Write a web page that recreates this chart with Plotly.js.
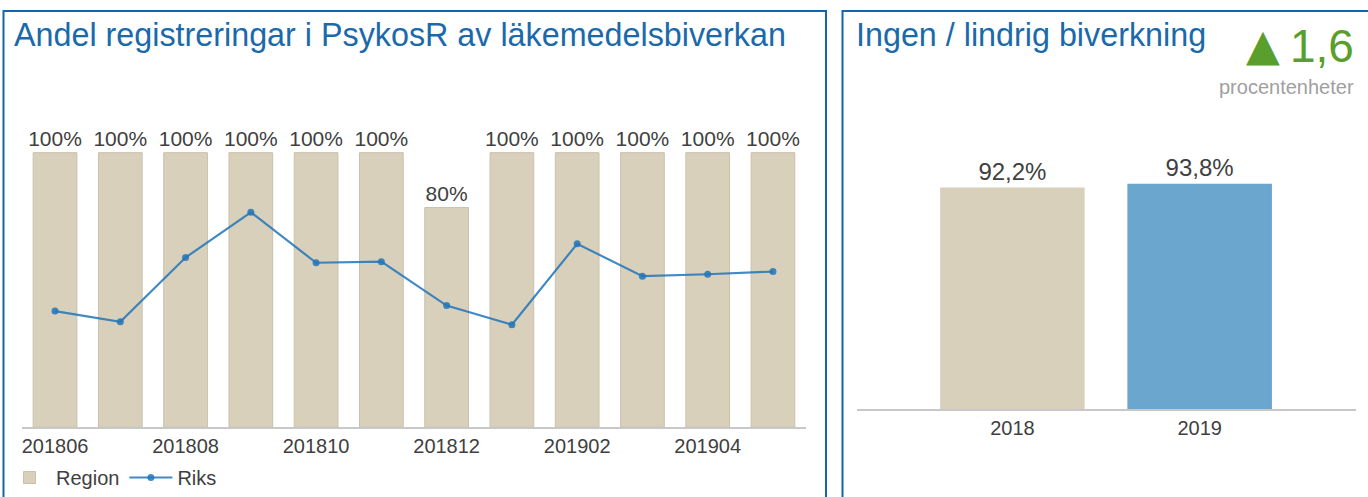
<!DOCTYPE html>
<html>
<head>
<meta charset="utf-8">
<script src="https://cdn.plot.ly/plotly-3.0.1.min.js"></script>
<style>
html,body{margin:0;padding:0;background:#fff;}
#chart{width:1368px;height:497px;}
</style>
</head>
<body>
<div id="chart"></div>
<script>
// ---- data ----
const months = ['201806','201807','201808','201809','201810','201811','201812','201901','201902','201903','201904','201905'];
const regionValues = [100,100,100,100,100,100,80,100,100,100,100,100];
const riksValues = [42.3,38.4,61.8,78.3,59.9,60.3,44.3,37.3,66.8,55.0,55.7,56.7];
const tickMonths = ['201806','201808','201810','201812','201902','201904'];

const years = ['2018','2019'];
const yearValues = [92.2,93.8];
const changeValue = '1,6';

const leftTitle = 'Andel registreringar i PsykosR av läkemedelsbiverkan';
const rightTitle = 'Ingen / lindrig biverkning';
const changeUnit = 'procentenheter';

// ---- style ----
const FONT = 'Liberation Sans, Arial, Helvetica, sans-serif';
const BEIGE = '#d8d0bb';
const BLUE_BAR = '#6aa6cd';
const LINE_BLUE = 'rgba(33,118,184,0.85)';
const TITLE_BLUE = '#1a6aab';
const BORDER_BLUE = '#1565a8';
const TXT = '#404040';
const W = 1368, H = 497;
const px = v => v / W;
const py = v => 1 - v / H;

const fmtPct = v => v.toFixed(1).replace('.', ',') + '%';

const traces = [
  {
    type: 'bar', name: 'Region', x: months, y: regionValues,
    xaxis: 'x', yaxis: 'y',
    marker: {color: BEIGE, line: {width: 1, color: '#c9c1ad'}},
    text: regionValues.map(v => v + '%'),
    textposition: 'outside', cliponaxis: false, constraintext: 'none',
    textfont: {family: FONT, size: 21, color: TXT},
    hoverinfo: 'x+y'
  },
  {
    type: 'scatter', mode: 'lines+markers', name: 'Riks', x: months, y: riksValues,
    xaxis: 'x', yaxis: 'y',
    line: {color: LINE_BLUE, width: 2.2},
    marker: {color: LINE_BLUE, size: 7},
    hoverinfo: 'x+y'
  },
  {
    type: 'bar', name: 'År', x: years, y: yearValues,
    xaxis: 'x2', yaxis: 'y2', showlegend: false, width: 0.772,
    marker: {color: [BEIGE, BLUE_BAR], line: {width: 0}},
    text: yearValues.map(fmtPct),
    textposition: 'outside', cliponaxis: false, constraintext: 'none',
    textfont: {family: FONT, size: 24, color: TXT},
    hoverinfo: 'x+y'
  }
];

const layout = {
  width: W, height: H,
  margin: {l: 0, r: 0, t: 0, b: 0},
  paper_bgcolor: '#fff', plot_bgcolor: 'rgba(0,0,0,0)',
  font: {family: FONT, color: TXT, size: 20},
  bargap: 0.33,
  showlegend: true,
  legend: {
    orientation: 'h', x: px(3), xanchor: 'left', y: py(478), yanchor: 'middle',
    font: {family: FONT, size: 20, color: TXT}, itemwidth: 43,
    bgcolor: 'rgba(0,0,0,0)', traceorder: 'normal'
  },
  xaxis: {
    domain: [px(22.4), px(805.6)], type: 'category', range: [-0.5, 11.5],
    showline: true, linecolor: '#c8c8c8', linewidth: 2,
    ticks: '', tickvals: tickMonths, ticktext: tickMonths,
    tickfont: {family: FONT, size: 20, color: TXT},
    showgrid: false, zeroline: false, fixedrange: true, anchor: 'y'
  },
  yaxis: {
    domain: [py(428), py(125.5)], range: [0, 110],
    visible: false, showgrid: false, zeroline: false, fixedrange: true, anchor: 'x'
  },
  xaxis2: {
    domain: [px(857), px(1356)], type: 'category', range: [-0.83, 1.835],
    showline: true, linecolor: '#c8c8c8', linewidth: 2,
    ticks: '', tickfont: {family: FONT, size: 20, color: TXT},
    showgrid: false, zeroline: false, fixedrange: true, anchor: 'y2'
  },
  yaxis2: {
    domain: [py(410), py(145.1)], range: [0, 110],
    visible: false, showgrid: false, zeroline: false, fixedrange: true, anchor: 'x2'
  },
  shapes: [
    {type: 'rect', xref: 'paper', yref: 'paper', x0: px(3.5), x1: px(826), y0: py(530), y1: py(11),
     line: {color: BORDER_BLUE, width: 2}, fillcolor: 'rgba(0,0,0,0)', layer: 'below'},
    {type: 'rect', xref: 'paper', yref: 'paper', x0: px(842.5), x1: px(1400), y0: py(530), y1: py(11),
     line: {color: BORDER_BLUE, width: 2}, fillcolor: 'rgba(0,0,0,0)', layer: 'below'}
  ],
  annotations: [
    {xref: 'paper', yref: 'paper', x: px(12), y: py(35), xanchor: 'left', yanchor: 'middle',
     text: leftTitle, showarrow: false, font: {family: FONT, size: 32.3, color: TITLE_BLUE}},
    {xref: 'paper', yref: 'paper', x: px(854), y: py(35), xanchor: 'left', yanchor: 'middle',
     text: rightTitle, showarrow: false, font: {family: FONT, size: 32.3, color: TITLE_BLUE}},
    {xref: 'paper', yref: 'paper', x: px(1282), y: py(45), xanchor: 'right', yanchor: 'middle',
     text: '▲', showarrow: false, font: {family: 'DejaVu Sans, sans-serif', size: 44, color: '#5a9e2c'}},
    {xref: 'paper', yref: 'paper', x: px(1356), y: py(46), xanchor: 'right', yanchor: 'middle',
     text: changeValue, showarrow: false, font: {family: FONT, size: 46, color: '#5a9e2c'}},
    {xref: 'paper', yref: 'paper', x: px(1356), y: py(87), xanchor: 'right', yanchor: 'middle',
     text: changeUnit, showarrow: false, font: {family: FONT, size: 20, color: '#a0a0a0'}}
  ]
};

Plotly.newPlot('chart', traces, layout, {displayModeBar: false, staticPlot: false, responsive: false});
</script>
</body>
</html>
